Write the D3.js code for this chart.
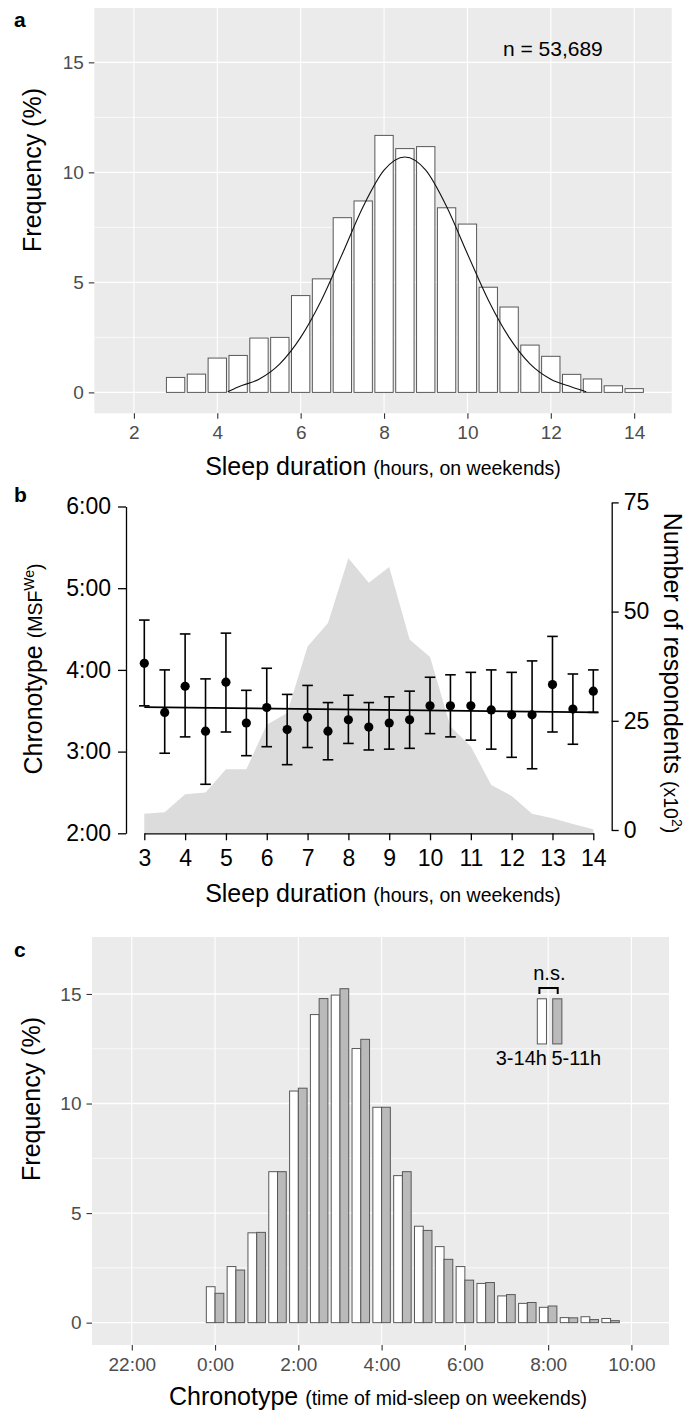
<!DOCTYPE html>
<html>
<head>
<meta charset="utf-8">
<script src="https://cdn.jsdelivr.net/npm/d3@7"></script>
<style>
  body { margin: 0; background: #fff; }
  svg { display: block; }
</style>
</head>
<body>
<svg id="fig"></svg>
<script>
// ---- data ----
// a: sleep duration histogram (% of respondents)
let sleepHours = [3, 3.5, 4, 4.5, 5, 5.5, 6, 6.5, 7, 7.5, 8, 8.5, 9, 9.5, 10, 10.5, 11, 11.5, 12, 12.5, 13, 13.5, 14];
let sleepFreq = [0.68, 0.83, 1.56, 1.68, 2.47, 2.50, 4.40, 5.16, 7.94, 8.70, 11.68, 11.08, 11.17, 8.39, 7.65, 4.78, 3.88, 2.15, 1.64, 0.82, 0.61, 0.30, 0.17];
// fitted normal curve
let curveHours = [4.25, 4.5, 5, 5.5, 6, 6.5, 7, 7.5, 8, 8.5, 9, 9.5, 10, 10.5, 11, 11.5, 12, 12.5, 12.85];
let curveFreq = [0.03, 0.25, 0.6, 1.3, 2.5, 4.2, 6.3, 8.45, 10.1, 10.7, 10.1, 8.45, 6.3, 4.2, 2.5, 1.3, 0.6, 0.25, 0.03];
let sampleLabel = 'n = 53,689';

// b: respondents (x10^2) and chronotype (hours after midnight) per sleep duration
let respondents = [3.7, 4.05, 8.2, 8.6, 13.9, 13.9, 24.1, 26.8, 42.0, 47.4, 62.2, 56.6, 60.2, 43.6, 39.6, 23.7, 19.1, 10.3, 7.8, 3.7, 2.7, 1.4, 0.15];
let msfMean = [4.08, 3.48, 3.80, 3.25, 3.85, 3.35, 3.54, 3.27, 3.42, 3.25, 3.39, 3.30, 3.35, 3.39, 3.56, 3.56, 3.56, 3.51, 3.45, 3.45, 3.82, 3.52, 3.74];
let msfUpper = [4.61, 4.00, 4.44, 3.89, 4.45, 3.75, 4.02, 3.70, 3.81, 3.60, 3.69, 3.60, 3.67, 3.74, 3.91, 3.94, 3.97, 4.00, 3.97, 4.11, 4.41, 3.95, 4.00];
let msfLower = [3.56, 2.98, 3.18, 2.60, 3.24, 2.95, 3.06, 2.84, 3.05, 2.90, 3.10, 3.02, 3.03, 3.04, 3.22, 3.18, 3.14, 3.03, 2.93, 2.79, 3.24, 3.09, 3.48];
let trendHours = [3, 14.12];
let trendMsf = [3.545, 3.48];

// c: chronotype histogram, all sleepers (3-14h) vs 5-11h sleepers
let midSleep = [0, 0.5, 1, 1.5, 2, 2.5, 3, 3.5, 4, 4.5, 5, 5.5, 6, 6.5, 7, 7.5, 8, 8.5, 9, 9.5];
let freqAll = [1.64, 2.56, 4.10, 6.89, 10.57, 14.06, 14.95, 12.51, 9.83, 6.71, 4.40, 3.47, 2.56, 1.79, 1.22, 0.88, 0.70, 0.23, 0.27, 0.19];
let freqMid = [1.34, 2.40, 4.12, 6.89, 10.70, 14.79, 15.24, 12.93, 9.83, 6.89, 4.21, 2.89, 1.94, 1.83, 1.28, 0.92, 0.76, 0.22, 0.14, 0.09];
let groupLabels = ['3-14h', '5-11h'];

// tick labels
let ticksA_x = [2, 4, 6, 8, 10, 12, 14];
let ticksFreq = [0, 5, 10, 15];
let minorFreq = [2.5, 7.5, 12.5];
let ticksB_x = [3, 4, 5, 6, 7, 8, 9, 10, 11, 12, 13, 14];
let ticksB_left = [2, 3, 4, 5, 6];
let ticksB_right = [0, 25, 50, 75];
let ticksC_x = [-2, 0, 2, 4, 6, 8, 10];

const FONT = '"Liberation Sans", Arial, Helvetica, sans-serif';
const BG = '#ebebeb';
const EDGE = '#585858';

let svg = d3.select('#fig').attr('width', 689).attr('height', 1412);
svg.append('rect').attr('width', 689).attr('height', 1412).attr('fill', '#fff');

let styleAxis = (sel, size, color, keepDomain) => {
    sel.attr('font-family', null).attr('font-size', null);
    if (!keepDomain) sel.select('.domain').remove();
    sel.selectAll('.tick text').attr('fill', color).attr('font-size', size).attr('font-family', FONT);
}

let ggPanel = (g, x, y, xGrid) => {
    let [x0, x1] = x.range();
    let [y0, y1] = y.range();
    g.append('rect').attr('x', x0).attr('y', y1).attr('width', x1 - x0).attr('height', y0 - y1).attr('fill', BG);
    g.selectAll(null).data(minorFreq).join('line')
        .attr('x1', x0).attr('x2', x1).attr('y1', d => y(d)).attr('y2', d => y(d))
        .attr('stroke', '#fff').attr('stroke-width', 0.7);
    g.selectAll(null).data(ticksFreq).join('line')
        .attr('x1', x0).attr('x2', x1).attr('y1', d => y(d)).attr('y2', d => y(d))
        .attr('stroke', '#fff').attr('stroke-width', 1.4);
    g.selectAll(null).data(xGrid).join('line')
        .attr('x1', d => x(d)).attr('x2', d => x(d)).attr('y1', y0).attr('y2', y1)
        .attr('stroke', '#fff').attr('stroke-width', 1.1);
}

let ggAxes = (g, x, y, xTicks, fmt) => {
    let [x0, x1] = x.range();
    let [y0, y1] = y.range();
    let ya = g.append('g').attr('transform', `translate(${x0},0)`)
        .call(d3.axisLeft(y).tickValues(ticksFreq).tickSize(5.5).tickPadding(5));
    styleAxis(ya, '19px', '#4d4d4d');
    ya.selectAll('.tick line').attr('stroke', '#333').attr('stroke-width', 1.1);
    let xa = g.append('g').attr('transform', `translate(0,${y0})`)
        .call(d3.axisBottom(x).tickValues(xTicks).tickSize(5.5).tickFormat(fmt));
    styleAxis(xa, '19px', '#4d4d4d');
    xa.selectAll('.tick line').attr('stroke', '#333').attr('stroke-width', 1.1);
    xa.selectAll('.tick text').attr('y', 25.5).attr('dy', null);
}

let title = (g, x, y, main, small, rot, sup) => {
    let t = g.append('text').attr('font-family', FONT).attr('text-anchor', 'middle')
        .attr('transform', `translate(${x},${y}) rotate(${rot})`);
    t.append('tspan').attr('font-size', '25px').text(main);
    if (small) t.append('tspan').attr('font-size', '19.5px').text(small);
    if (sup) {
        t.append('tspan').attr('font-size', '14px').attr('dy', -8).text(sup);
        t.append('tspan').attr('font-size', '19.5px').attr('dy', 8).text(')');
    }
    return t;
}

let panelLetter = (txt, x, y) => {
    svg.append('text').attr('x', x).attr('y', y).attr('font-family', FONT)
        .attr('font-weight', 'bold').attr('font-size', '21px').text(txt);
}

// ---- panel a ----
let drawA = () => {
    let g = svg.append('g');
    let x = d3.scaleLinear().domain([1.05, 14.9]).range([94.3, 671.7]);
    let y = d3.scaleLinear().domain([-0.95, 17.47]).range([413.3, 8]);
    ggPanel(g, x, y, ticksA_x);

    g.selectAll(null).data(d3.zip(sleepHours, sleepFreq)).join('rect')
        .attr('x', d => x(d[0] - 0.22))
        .attr('width', d => x(d[0] + 0.22) - x(d[0] - 0.22))
        .attr('y', d => y(d[1]))
        .attr('height', d => y(0) - y(d[1]))
        .attr('fill', '#fff').attr('stroke', EDGE).attr('stroke-width', 1);

    let line = d3.line().x(d => x(d[0])).y(d => y(d[1])).curve(d3.curveMonotoneX);
    g.append('path').datum(d3.zip(curveHours, curveFreq)).attr('d', line)
        .attr('fill', 'none').attr('stroke', '#111').attr('stroke-width', 1.1);

    g.append('text').attr('x', x(12.05)).attr('y', y(15.3)).attr('text-anchor', 'middle')
        .attr('font-family', FONT).attr('font-size', '21px').text(sampleLabel);

    ggAxes(g, x, y, ticksA_x, d => d);
    title(g, 383, 475, 'Sleep duration ', '(hours, on weekends)', 0);
    title(g, 41, 170, 'Frequency (%)', null, -90);
    panelLetter('a', 14, 27);
}

// ---- panel b ----
let drawB = () => {
    let g = svg.append('g');
    let x = d3.scaleLinear().domain([3, 14]).range([144.3, 593.3]);
    let yL = d3.scaleLinear().domain([2, 6]).range([833.3, 506.5]);
    let yR = d3.scaleLinear().domain([0, 75]).range([830, 502.4]);

    let area = d3.area().x(d => x(d[0])).y0(yL(2)).y1(d => yR(d[1]));
    g.append('path').datum(d3.zip(sleepHours, respondents)).attr('d', area).attr('fill', '#dcdcdc');

    let line = d3.line().x(d => x(d[0])).y(d => yL(d[1]));
    g.append('path').datum(d3.zip(trendHours, trendMsf)).attr('d', line)
        .attr('fill', 'none').attr('stroke', '#000').attr('stroke-width', 1.7);

    let rows = sleepHours.map((h, i) => ({ h, m: msfMean[i], hi: msfUpper[i], lo: msfLower[i] }));
    let eb = g.append('g').attr('stroke', '#000').attr('stroke-width', 1.6);
    eb.selectAll(null).data(rows).join('line')
        .attr('x1', d => x(d.h)).attr('x2', d => x(d.h)).attr('y1', d => yL(d.hi)).attr('y2', d => yL(d.lo));
    eb.selectAll(null).data(rows).join('line')
        .attr('x1', d => x(d.h) - 5.3).attr('x2', d => x(d.h) + 5.3).attr('y1', d => yL(d.hi)).attr('y2', d => yL(d.hi));
    eb.selectAll(null).data(rows).join('line')
        .attr('x1', d => x(d.h) - 5.3).attr('x2', d => x(d.h) + 5.3).attr('y1', d => yL(d.lo)).attr('y2', d => yL(d.lo));
    g.selectAll(null).data(rows).join('circle')
        .attr('cx', d => x(d.h)).attr('cy', d => yL(d.m)).attr('r', 4.6).attr('fill', '#000');

    let axStyle = (a) => {
        a.select('.domain').attr('stroke', '#000').attr('stroke-width', 1.3);
        a.selectAll('.tick line').attr('stroke', '#000').attr('stroke-width', 1.3);
    }
    let la = g.append('g').attr('transform', 'translate(126,0)')
        .call(d3.axisLeft(yL).tickValues(ticksB_left).tickFormat(d => d + ':00').tickSize(8).tickSizeOuter(0).tickPadding(7));
    styleAxis(la, '23px', '#000', true); axStyle(la);
    let ra = g.append('g').attr('transform', 'translate(611.7,0)')
        .call(d3.axisRight(yR).tickValues(ticksB_right).tickSize(7).tickSizeOuter(0).tickPadding(5));
    styleAxis(ra, '23px', '#000', true); axStyle(ra);
    let ba = g.append('g').attr('transform', `translate(0,${yL(2)})`)
        .call(d3.axisBottom(x).tickValues(ticksB_x).tickSize(7).tickSizeOuter(0));
    styleAxis(ba, '23px', '#000', true); axStyle(ba);
    ba.selectAll('.tick text').attr('y', 32.5).attr('dy', null);

    title(g, 383, 902, 'Sleep duration ', '(hours, on weekends)', 0);
    title(g, 42, 669, 'Chronotype ', '(MSF', -90, 'We');
    title(g, 664, 673, 'Number of respondents ', '(x10', 90, '2');
    panelLetter('b', 14, 502);
}

// ---- panel c ----
let drawC = () => {
    let g = svg.append('g');
    let x = d3.scaleLinear().domain([-2.956, 10.903]).range([92, 669]);
    let y = d3.scaleLinear().domain([-1.02, 17.6]).range([1345, 937]);
    ggPanel(g, x, y, ticksC_x);

    let w = 0.21;
    g.selectAll(null).data(d3.zip(midSleep, freqAll)).join('rect')
        .attr('x', d => x(d[0] - w)).attr('width', d => x(d[0]) - x(d[0] - w))
        .attr('y', d => y(d[1])).attr('height', d => y(0) - y(d[1]))
        .attr('fill', '#fff').attr('stroke', EDGE).attr('stroke-width', 1);
    g.selectAll(null).data(d3.zip(midSleep, freqMid)).join('rect')
        .attr('x', d => x(d[0])).attr('width', d => x(d[0] + w) - x(d[0]))
        .attr('y', d => y(d[1])).attr('height', d => y(0) - y(d[1]))
        .attr('fill', '#bababa').attr('stroke', EDGE).attr('stroke-width', 1);

    // key: two small bars, bracket and labels
    let keyX = [7.85, 8.22];
    let keyFill = ['#fff', '#bababa'];
    g.selectAll(null).data(keyX).join('rect')
        .attr('x', d => x(d - 0.11)).attr('width', d => x(d + 0.11) - x(d - 0.11))
        .attr('y', y(14.78)).attr('height', y(12.72) - y(14.78))
        .attr('fill', (d, i) => keyFill[i]).attr('stroke', EDGE).attr('stroke-width', 1);
    g.append('path')
        .attr('d', `M${x(7.79)},${y(15.0)}V${y(15.27)}H${x(8.23)}V${y(15.0)}`)
        .attr('fill', 'none').attr('stroke', '#000').attr('stroke-width', 2);
    g.append('text').attr('x', x(8.03)).attr('y', y(15.65)).attr('text-anchor', 'middle')
        .attr('font-family', FONT).attr('font-size', '20px').text('n.s.');
    g.append('text').attr('x', x(7.97)).attr('y', y(11.75)).attr('text-anchor', 'end')
        .attr('font-family', FONT).attr('font-size', '20px').text(groupLabels[0]);
    g.append('text').attr('x', x(8.08)).attr('y', y(11.75)).attr('text-anchor', 'start')
        .attr('font-family', FONT).attr('font-size', '20px').text(groupLabels[1]);

    ggAxes(g, x, y, ticksC_x, d => ((d + 24) % 24) + ':00');
    title(g, 378, 1405, 'Chronotype ', '(time of mid-sleep on weekends)', 0);
    title(g, 40, 1099, 'Frequency (%)', null, -90);
    panelLetter('c', 14, 957);
}

drawA();
drawB();
drawC();
</script>
</body>
</html>
